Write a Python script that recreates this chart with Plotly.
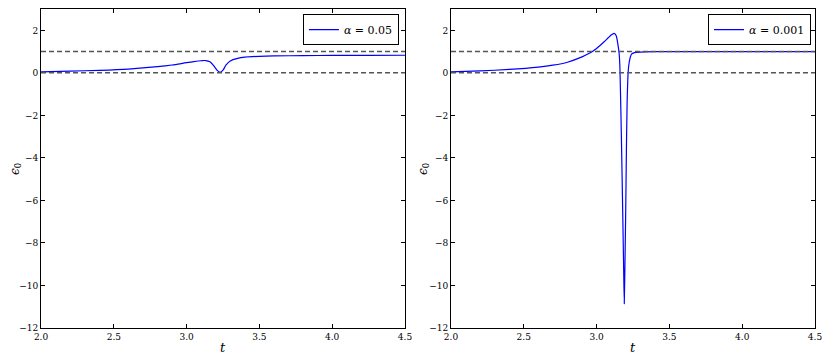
import plotly.graph_objects as go
from plotly.subplots import make_subplots

# alpha = 0.05 (left panel)
t_a = [2.0, 2.2, 2.4, 2.6, 2.8, 2.9, 3.0, 3.05, 3.1, 3.13, 3.16, 3.19, 3.21,
       3.23, 3.25, 3.27, 3.3, 3.35, 3.4, 3.5, 3.6, 3.8, 4.0, 4.25, 4.5]
eps_a = [0.05, 0.08, 0.12, 0.18, 0.29, 0.37, 0.48, 0.53, 0.57, 0.58, 0.52, 0.3, 0.12,
         0.03, 0.13, 0.36, 0.56, 0.68, 0.74, 0.78, 0.8, 0.81, 0.82, 0.82, 0.83]

# alpha = 0.001 (right panel)
t_b = [2.0, 2.2, 2.4, 2.6, 2.7, 2.8, 2.9, 2.95, 3.0, 3.05, 3.08, 3.1, 3.12, 3.135,
       3.145, 3.155, 3.16, 3.165, 3.17, 3.175, 3.18, 3.185, 3.19, 3.195, 3.2, 3.205,
       3.21, 3.215, 3.22, 3.23, 3.24, 3.26, 3.3, 3.4, 3.6, 4.0, 4.5]
eps_b = [0.05, 0.09, 0.16, 0.27, 0.36, 0.5, 0.75, 0.92, 1.15, 1.45, 1.65, 1.78, 1.86, 1.75,
         1.4, 0.9, 0.3, -1.2, -2.9, -4.8, -6.8, -8.8, -10.86, -8.9, -6.5, -3.5,
         -1.3, -0.2, 0.3, 0.7, 0.88, 0.95, 0.98, 0.995, 1.0, 1.0, 1.0]

ref_levels = [0, 1]
x_ticks = [2.0, 2.5, 3.0, 3.5, 4.0, 4.5]
y_ticks = [-12, -10, -8, -6, -4, -2, 0, 2]

FONT = "DejaVu Serif"

fig = make_subplots(rows=1, cols=2)

fig.add_trace(go.Scatter(x=t_a, y=eps_a, mode="lines",
                         line=dict(color="#0000ff", width=1.2, shape="spline", smoothing=0.8),
                         name="<i>α</i> = 0.05", legend="legend", showlegend=True), row=1, col=1)
fig.add_trace(go.Scatter(x=t_b, y=eps_b, mode="lines",
                         line=dict(color="#0000ff", width=1.2, shape="spline", smoothing=0.5),
                         name="<i>α</i> = 0.001", legend="legend2", showlegend=True), row=1, col=2)

for col in (1, 2):
    for lv in ref_levels:
        fig.add_hline(y=lv, line=dict(color="#555555", width=1.5, dash="5px,3px"), row=1, col=col)

axis_common = dict(showline=True, mirror="allticks", linecolor="black", linewidth=1,
                   ticks="inside", ticklen=4, tickcolor="black", showgrid=False,
                   zeroline=False, automargin=False,
                   tickfont=dict(family=FONT, size=9, color="black"))

fig.update_xaxes(range=[2.0, 4.5], tickvals=x_ticks, ticktext=[f"{v:.1f}" for v in x_ticks],
                 **axis_common)
fig.update_yaxes(range=[-12, 3], tickvals=y_ticks, ticktext=[str(v).replace("-", "−") for v in y_ticks],
                 **axis_common)

# axis titles as annotations so their positions can be set exactly
title_font = dict(family=FONT, size=13, color="black")
for xc in (0.259, 0.753):
    fig.add_annotation(text="<i>t</i>", xref="paper", yref="paper", x=xc, y=0.0635,
                       xanchor="center", yanchor="middle", showarrow=False, font=title_font)
for xc in (0.0096, 0.501):
    fig.add_annotation(text="<i>ϵ</i><sub>0</sub>", xref="paper", yref="paper", x=xc, y=0.555,
                       xanchor="center", yanchor="middle", textangle=-90, showarrow=False,
                       font=dict(family=FONT, size=12, color="black"))

# the page body adds an 8px offset, so domains are shifted to compensate
fig.update_layout(
    xaxis=dict(domain=[0.0398, 0.4783]),
    xaxis2=dict(domain=[0.5337, 0.9723]),
    yaxis=dict(domain=[0.116, 0.997]),
    yaxis2=dict(domain=[0.116, 0.997]),
    width=830, height=362,
    margin=dict(l=0, r=0, t=0, b=0),
    paper_bgcolor="white", plot_bgcolor="white",
    showlegend=True,
    legend=dict(x=0.471, y=0.983, xanchor="right", yanchor="top", bgcolor="white",
                bordercolor="black", borderwidth=1, font=dict(family=FONT, size=11, color="black"),
                itemwidth=30, tracegroupgap=0),
    legend2=dict(x=0.9675, y=0.983, xanchor="right", yanchor="top", bgcolor="white",
                 bordercolor="black", borderwidth=1, font=dict(family=FONT, size=11, color="black"),
                 itemwidth=30, tracegroupgap=0),
)

fig.write_html("out.html")
